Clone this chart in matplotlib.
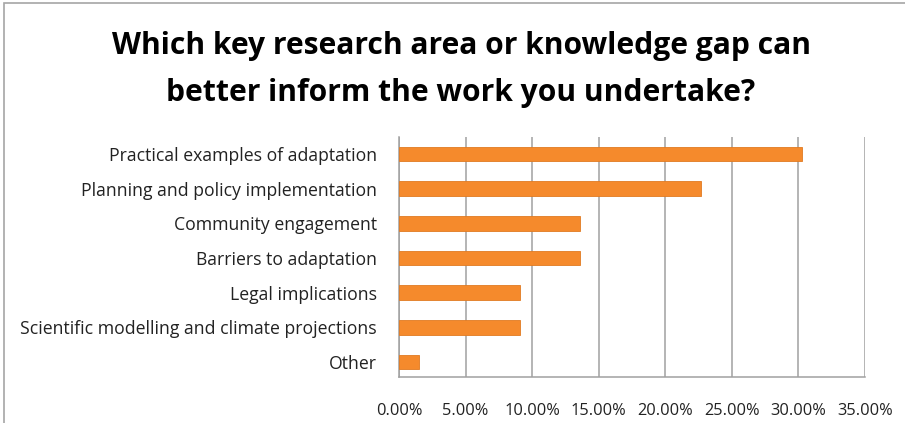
import matplotlib.pyplot as plt
from matplotlib.patches import Rectangle
from matplotlib.ticker import FuncFormatter

# survey answers (share of respondents, %)
categories = [
    "Practical examples of adaptation",
    "Planning and policy implementation",
    "Community engagement",
    "Barriers to adaptation",
    "Legal implications",
    "Scientific modelling and climate projections",
    "Other",
]
shares = [30.3, 22.7, 13.6, 13.6, 9.1, 9.1, 1.5]
xticks = [0, 5, 10, 15, 20, 25, 30, 35]

plt.rcParams['font.family'] = ['Open Sans', 'DejaVu Sans']

fig = plt.figure(figsize=(9.05, 4.23), dpi=100)
fig.patch.set_facecolor('white')

# outer chart frame (clipped at right / bottom like the screenshot)
fig.add_artist(Rectangle((4 / 905, -0.1), 1.2, 1 - 3 / 423 + 0.1,
                         transform=fig.transFigure, fill=False,
                         edgecolor='#a6a6a6', linewidth=1.2))

ax = fig.add_axes([399 / 905, 1 - 377 / 423, 466 / 905, 240 / 423])

ypos = range(len(categories))
ax.barh(ypos, shares, height=0.42, color='#f58a2c', edgecolor='#e07a22',
        linewidth=0.6, zorder=3)

ax.set_xlim(0, 35)
ax.set_ylim(len(categories) - 0.57, -0.49)
ax.set_xticks(xticks)
ax.xaxis.set_major_formatter(FuncFormatter(lambda v, p: f"{v:.2f}%"))
ax.set_yticks(list(ypos))
ax.set_yticklabels(categories)

ax.grid(axis='x', color='#a0a0a0', linewidth=1.1, zorder=0)
for side in ['top', 'right']:
    ax.spines[side].set_visible(False)
for side in ['left', 'bottom']:
    ax.spines[side].set_color('#a0a0a0')
    ax.spines[side].set_linewidth(1.1)

ax.tick_params(axis='x', length=0, pad=19, labelsize=11.8, labelcolor='#222222')
ax.tick_params(axis='y', length=0, pad=16, labelsize=12.7, labelcolor='#222222')

fig.text(461 / 905, 1 - 46 / 423,
         "Which key research area or knowledge gap can",
         ha='center', va='center', fontsize=21.6, fontweight='bold')
fig.text(461 / 905, 1 - 93 / 423,
         "better inform the work you undertake?",
         ha='center', va='center', fontsize=21.6, fontweight='bold')

fig.savefig('out.png', dpi=100)
